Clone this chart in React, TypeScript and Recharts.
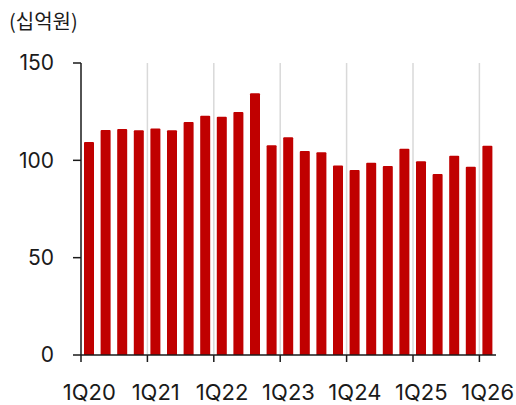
import React from "react";
import { BarChart, Bar, XAxis, YAxis } from "recharts";

const quarters = [
  "1Q20", "2Q20", "3Q20", "4Q20",
  "1Q21", "2Q21", "3Q21", "4Q21",
  "1Q22", "2Q22", "3Q22", "4Q22",
  "1Q23", "2Q23", "3Q23", "4Q23",
  "1Q24", "2Q24", "3Q24", "4Q24",
  "1Q25", "2Q25", "3Q25", "4Q25",
  "1Q26",
];
const values = [
  109.4, 115.6, 116.1, 115.4,
  116.4, 115.4, 119.7, 122.9,
  122.4, 124.8, 134.4, 107.7,
  111.8, 104.8, 104.1, 97.4,
  95.0, 98.8, 97.1, 106.0,
  99.5, 93.0, 102.4, 96.7,
  107.5,
];
const yTicks = [0, 50, 100, 150];
const unitLabel = "(십억원)";

const data = quarters.map((q, i) => ({ q, v: values[i] }));

const FONT = "Inter, 'Noto Sans CJK KR', sans-serif";
const TEXT = "#1a1a1a";
const PLOT_TOP = 55;

function QuarterTick(props: any) {
  const { x, y, payload, index } = props;
  const label: string = payload.value;
  if (!label.startsWith("1Q")) return <g />;
  const half = payload.offset ?? 0;
  const bx = x - half;
  return (
    <g>
      {index !== 0 && (
        <line x1={bx} x2={bx} y1={PLOT_TOP} y2={y - 1} stroke="#d9d9d9" strokeWidth={1.5} />
      )}
      <line x1={bx} x2={bx} y1={y} y2={y + 7} stroke={TEXT} strokeWidth={1.5} />
      <text
        x={x}
        y={y + 45}
        textAnchor="middle"
        fill={TEXT}
        fontSize={22}
        fontFamily={FONT}
      >
        {label}
      </text>
    </g>
  );
}

export default function App() {
  return (
    <div
      style={{
        position: "relative",
        width: 516,
        height: 405,
        boxSizing: "border-box",
        padding: "8px 0 0 8px",
        overflow: "hidden",
        fontFamily: FONT,
      }}
    >
      <style>{"html,body{margin:0;padding:0;overflow:hidden;}"}</style>
      <div
        style={{
          position: "absolute",
          left: 9,
          top: 8,
          fontSize: 20,
          color: TEXT,
          fontFamily: "'Noto Sans CJK KR', sans-serif",
          lineHeight: "26px",
        }}
      >
        {unitLabel}
      </div>
      <BarChart
        width={508}
        height={397}
        data={data}
        margin={{ top: PLOT_TOP, right: 20, left: 0, bottom: 0 }}
        barCategoryGap={0}
      >
        <XAxis
          dataKey="q"
          interval={0}
          height={50}
          axisLine={{ stroke: TEXT, strokeWidth: 1.5 }}
          tickLine={false}
          tickSize={0}
          tickMargin={0}
          tick={<QuarterTick />}
        />
        <YAxis
          domain={[0, 150]}
          ticks={yTicks}
          width={73}
          tickSize={8}
          tickMargin={19}
          axisLine={{ stroke: TEXT, strokeWidth: 1.5 }}
          tickLine={{ stroke: TEXT, strokeWidth: 1.5 }}
          tick={{ fill: TEXT, fontSize: 21, fontFamily: FONT }}
        />
        <Bar
          dataKey="v"
          fill="#c00000"
          barSize={10}
          radius={[1, 1, 0, 0]}
          isAnimationActive={false}
        />
      </BarChart>
    </div>
  );
}
